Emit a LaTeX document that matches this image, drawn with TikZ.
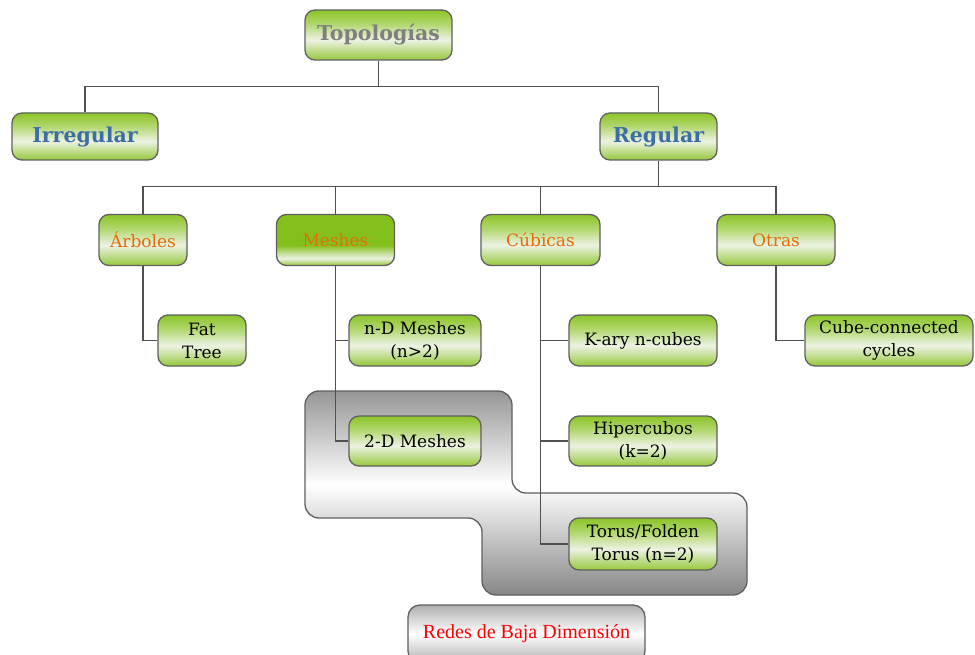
\documentclass[tikz,border=0pt]{standalone}
\usepackage{fontspec}
\usetikzlibrary{calc}
\setmainfont{DejaVu Serif}
\newfontfamily\timesf{Liberation Serif}
\definecolor{gTop}{RGB}{140,196,40}
\definecolor{gBot}{RGB}{150,200,60}
\definecolor{gMid}{RGB}{236,242,226}
\definecolor{gSolid}{RGB}{132,192,28}
\definecolor{edgec}{RGB}{95,95,95}
\definecolor{lineC}{RGB}{80,80,80}
\definecolor{txtGray}{RGB}{127,127,127}
\definecolor{txtBlue}{RGB}{60,110,165}
\definecolor{txtOrange}{RGB}{228,108,10}
\definecolor{grA}{RGB}{150,150,150}
\definecolor{grB}{RGB}{135,135,135}
\definecolor{grC}{RGB}{175,175,175}
\pgfdeclareverticalshading{greenbox}{100bp}{color(0bp)=(gBot); color(25bp)=(gBot); color(45bp)=(gMid); color(62bp)=(gTop!70!white); color(75bp)=(gTop); color(100bp)=(gTop)}
\pgfdeclareverticalshading{meshbox}{100bp}{color(0bp)=(gBot); color(25bp)=(gBot); color(32bp)=(gMid); color(45bp)=(gSolid); color(75bp)=(gSolid); color(100bp)=(gSolid)}
\pgfdeclareverticalshading{graybig}{100bp}{color(0bp)=(grB); color(25bp)=(grB); color(52bp)=(white); color(75bp)=(grA); color(100bp)=(grA)}
\pgfdeclareverticalshading{grayred}{100bp}{color(0bp)=(grC); color(25bp)=(grC); color(50bp)=(white); color(75bp)=(grC); color(100bp)=(grC)}
\tikzset{
  gbox/.style={draw=edgec, line width=1.3pt, rounded corners=10pt, shading=greenbox, align=center, inner sep=0pt},
  lvl1/.style={gbox, font=\fontsize{20.5}{24}\selectfont\bfseries},
  lvl2/.style={gbox, minimum width=118pt, minimum height=51pt, text=txtOrange, font=\fontsize{17}{23}\selectfont},
  leaf/.style={gbox, minimum height=51pt, font=\fontsize{17}{23}\selectfont},
  conn/.style={draw=lineC, line width=1.3pt},
}
\begin{document}
\begin{tikzpicture}[x=1pt,y=-1pt]
\useasboundingbox (0,0) rectangle (975,655);
% grey region
\shade[shading=graybig, draw=edgec, line width=1.3pt, rounded corners=14pt]
  (305,391) -- (512,391) -- (512,493) -- (747,493) -- (747,595) -- (482,595) -- (482,518) -- (305,518) -- cycle;
% nodes
\node[lvl1, text=txtGray, minimum width=147pt, minimum height=50pt] (topo) at (378.5,35) {Topologías};
\node[lvl1, text=txtBlue, minimum width=146pt, minimum height=47pt] (irr) at (85,136.5) {Irregular};
\node[lvl1, text=txtBlue, minimum width=117pt, minimum height=47pt] (reg) at (658.5,136.5) {Regular};
\node[lvl2, minimum width=88pt] (arb) at (143,240) {Árboles};
\node[lvl2, shading=meshbox] (mesh) at (335.5,240) {Meshes};
\node[lvl2, minimum width=119pt] (cub) at (540.5,240) {Cúbicas};
\node[lvl2] (otr) at (776,240) {Otras};
\node[leaf, minimum width=88pt] (fat) at (202,340.5) {Fat\\Tree};
\node[leaf, minimum width=132pt] (nd) at (415,340.5) {n-D Meshes\\(n>2)};
\node[leaf, minimum width=132pt, minimum height=50pt] (twod) at (415,441) {2-D Meshes};
\node[leaf, minimum width=148pt] (kary) at (643,340.5) {K-ary n-cubes};
\node[leaf, minimum width=148pt, minimum height=50pt] (hip) at (643,441) {Hipercubos\\(k=2)};
\node[leaf, minimum width=148pt, minimum height=52pt] (tor) at (643,544) {Torus/Folden\\Torus (n=2)};
\node[leaf, minimum width=168pt] (ccc) at (889,340.5) {Cube-connected\\cycles};
\node[draw=edgec, line width=1.3pt, rounded corners=12pt, shading=grayred, minimum width=237pt, minimum height=58pt, inner sep=0pt, text=red, font=\timesf\fontsize{20}{24}\selectfont] (redes) at (526.5,634) {Redes de Baja Dimensión};
% connectors
\coordinate (j1) at ($(topo.south)+(0,26)$);
\coordinate (j2) at ($(reg.south)+(0,26)$);
\draw[conn] (topo.south) -- (j1) -| (irr.north);
\draw[conn] (j1) -| (reg.north);
\draw[conn] (reg.south) -- (j2) -| (arb.north);
\draw[conn] (j2) -| (mesh.north);
\draw[conn] (j2) -| (cub.north);
\draw[conn] (j2) -| (otr.north);
\draw[conn] (arb.south) |- (fat.west);
\draw[conn] (mesh.south) |- (nd.west);
\draw[conn] (mesh.south) |- (twod.west);
\draw[conn] (cub.south) |- (kary.west);
\draw[conn] (cub.south) |- (hip.west);
\draw[conn] (cub.south) |- (tor.west);
\draw[conn] (otr.south) |- (ccc.west);
\end{tikzpicture}
\end{document}
